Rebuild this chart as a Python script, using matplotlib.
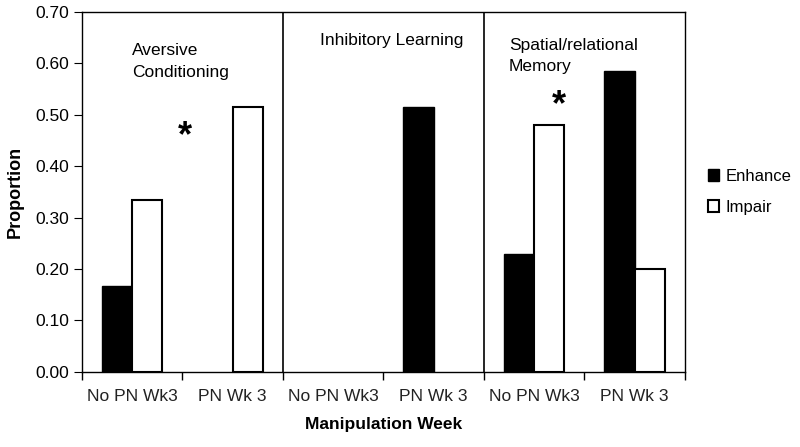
import matplotlib.pyplot as plt
import numpy as np

plt.rcParams['font.family'] = ['Liberation Sans', 'DejaVu Sans']

weeks = ['No PN Wk3', 'PN Wk 3', 'No PN Wk3', 'PN Wk 3', 'No PN Wk3', 'PN Wk 3']
enhance = [0.167, 0.0, 0.0, 0.515, 0.230, 0.585]
impair = [0.335, 0.515, 0.0, 0.0, 0.480, 0.200]
domains = ['Aversive\nConditioning', 'Inhibitory Learning', 'Spatial/relational\nMemory']

fig = plt.figure(figsize=(8, 4.47), dpi=100)
ax = fig.add_axes([0.1025, 0.168, 0.7535, 0.805])

x = np.arange(len(weeks))
w = 0.3
# zero-valued bars are not drawn in the original
ax.bar(x - w / 2, enhance, w, color='black',
       edgecolor=['black' if v > 0 else 'none' for v in enhance], linewidth=1, label='Enhance')
ax.bar(x + w / 2, impair, w, color='white',
       edgecolor=['black' if v > 0 else 'none' for v in impair], linewidth=1.5, label='Impair')

# dividers between task domains
for d in [1.5, 3.5]:
    ax.axvline(d, color='black', linewidth=1.2)

ax.set_xlim(-0.5, 5.5)
ax.set_ylim(0, 0.70)
ax.set_yticks(np.arange(0, 0.71, 0.1))
ax.set_yticklabels(['%.2f' % v for v in np.arange(0, 0.71, 0.1)])
ax.set_xticks(x)
ax.set_xticklabels(weeks)
ax.set_xticks(np.arange(-0.5, 5.6, 1), minor=True)
ax.tick_params(axis='x', which='major', length=0, pad=12, labelsize=12.5, colors='#222222')
ax.tick_params(axis='x', which='minor', length=6, width=1)
ax.tick_params(axis='y', length=6, labelsize=12.5)
for s in ax.spines.values():
    s.set_linewidth(1)

ax.set_ylabel('Proportion', fontsize=13, fontweight='bold', labelpad=8)
ax.set_xlabel('Manipulation Week', fontsize=12.5, fontweight='bold', labelpad=10)

ax.text(0.0, 0.64, domains[0], fontsize=12.5, va='top', ha='left', linespacing=1.55)
ax.text(1.87, 0.66, domains[1], fontsize=12.5, va='top', ha='left')
ax.text(3.75, 0.65, domains[2], fontsize=12.5, va='top', ha='left', linespacing=1.55)

ax.text(0.52, 0.44, '*', fontsize=26, fontweight='bold', ha='center')
ax.text(4.25, 0.50, '*', fontsize=26, fontweight='bold', ha='center')

ax.legend(loc='center left', bbox_to_anchor=(1.013, 0.5), frameon=False, fontsize=12,
          handlelength=0.7, handleheight=0.7, handletextpad=0.4, labelspacing=0.95)

fig.savefig('out.png', dpi=100)
